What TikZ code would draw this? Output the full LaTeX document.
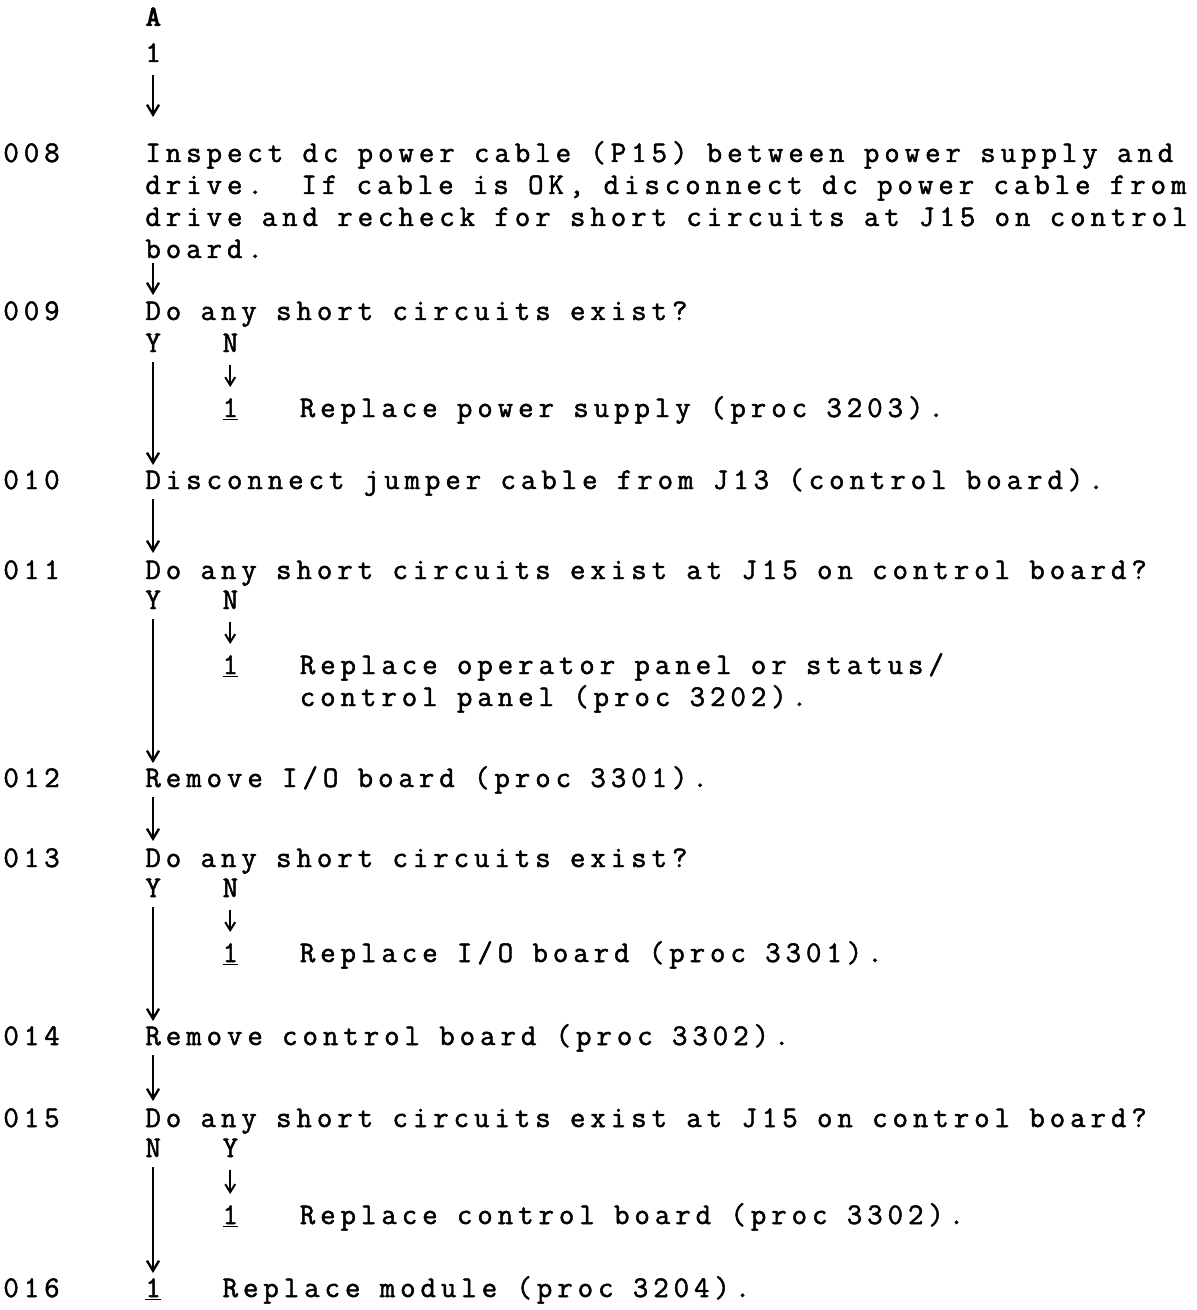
\documentclass[tikz,border=0pt]{standalone}
\usepackage{fontspec}
\usetikzlibrary{arrows.meta,calc}
\newfontfamily\typer[LetterSpace=16.5,FakeBold=1.6,BoldFont=lmmonolt10-bold.otf,BoldFeatures={LetterSpace=16.5}]{lmmono12-regular.otf}
\newcommand\typefont{\typer\fontsize{15}{16}\selectfont\frenchspacing\spaceskip=9.65pt\relax}
\tikzset{
  txt/.style={anchor=base west,inner sep=0pt,font=\typefont},
  flow/.style={line width=1.2pt,-{Straight Barb[length=5pt,width=6pt]}},
  tick/.style={line width=1pt,-{Straight Barb[length=4pt,width=5pt]}}
}

\begin{document}
\begin{tikzpicture}[x=0.5pt,y=-0.5pt]
\useasboundingbox (0,0) rectangle (1197,1310);
% step numbers
\foreach \n/\y in {008/162,009/320,010/489,011/579,012/787,013/867,014/1045,015/1127,016/1297}
  {\node[txt] (n\n) at (3,\y) {\n};}
% top of chart
\node[txt] (ta) at (145,26) {\bfseries A};
\node[txt] (t1) at (145,62) {1};
% steps
\node[txt] (s8a) at (145,162) {Inspect dc power cable (P15) between power supply and};
\node[txt] (s8b) at (145,194) {drive.~ If cable is OK, disconnect dc power cable from};
\node[txt] (s8c) at (145,226) {drive and recheck for short circuits at J15 on control};
\node[txt] (s8d) at (145,258) {board.};
\node[txt] (s9) at (145,320) {Do any short circuits exist?};
\node[txt] (y9) at (145,352) {Y};
\node[txt] (n9) at (222.2,352) {N};
\node[txt] (o9) at (222.2,417) {\underline{1}};
\node[txt] (r9) at (299.4,417) {Replace power supply (proc 3203).};
\node[txt] (s10) at (145,489) {Disconnect jumper cable from J13 (control board).};
\node[txt] (s11) at (145,579) {Do any short circuits exist at J15 on control board?};
\node[txt] (y11) at (145,609) {Y};
\node[txt] (n11) at (222.2,609) {N};
\node[txt] (o11) at (222.2,674) {\underline{1}};
\node[txt] (r11a) at (299.4,674) {Replace operator panel or status/};
\node[txt] (r11b) at (299.4,706) {control panel (proc 3202).};
\node[txt] (s12) at (145,787) {Remove I/O board (proc 3301).};
\node[txt] (s13) at (145,867) {Do any short circuits exist?};
\node[txt] (y13) at (145,897) {Y};
\node[txt] (n13) at (222.2,897) {N};
\node[txt] (o13) at (222.2,962) {\underline{1}};
\node[txt] (r13) at (299.4,962) {Replace I/O board (proc 3301).};
\node[txt] (s14) at (145,1045) {Remove control board (proc 3302).};
\node[txt] (s15) at (145,1127) {Do any short circuits exist at J15 on control board?};
\node[txt] (n15) at (145,1157) {N};
\node[txt] (y15) at (222.2,1157) {Y};
\node[txt] (o15) at (222.2,1224) {\underline{1}};
\node[txt] (r15) at (299.4,1224) {Replace control board (proc 3302).};
\node[txt] (o16) at (145,1297) {\underline{1}};
\node[txt] (r16) at (222.2,1297) {Replace module (proc 3204).};
% main flow
\draw[flow] ($(t1.base west)+(8,13)$) -- ($(s8a.base west)+(8,-45)$);
\draw[flow] ($(s8d.base west)+(8,5)$) -- ($(s9.base west)+(8,-25)$);
\draw[flow] ($(y9.base west)+(8,10)$) -- ($(s10.base west)+(8,-24)$);
\draw[flow] ($(s10.base west)+(8,10)$) -- ($(s11.base west)+(8,-26)$);
\draw[flow] ($(y11.base west)+(8,10)$) -- ($(s12.base west)+(8,-24)$);
\draw[flow] ($(s12.base west)+(8,10)$) -- ($(s13.base west)+(8,-26)$);
\draw[flow] ($(y13.base west)+(8,10)$) -- ($(s14.base west)+(8,-24)$);
\draw[flow] ($(s14.base west)+(8,10)$) -- ($(s15.base west)+(8,-26)$);
\draw[flow] ($(n15.base west)+(8,10)$) -- ($(o16.base west)+(8,-24)$);
% side branches
\draw[tick] ($(n9.base west)+(8,13)$) -- ($(o9.base west)+(8,-30)$);
\draw[tick] ($(n11.base west)+(8,13)$) -- ($(o11.base west)+(8,-30)$);
\draw[tick] ($(n13.base west)+(8,13)$) -- ($(o13.base west)+(8,-30)$);
\draw[tick] ($(y15.base west)+(8,13)$) -- ($(o15.base west)+(8,-30)$);
\end{tikzpicture}
\end{document}
